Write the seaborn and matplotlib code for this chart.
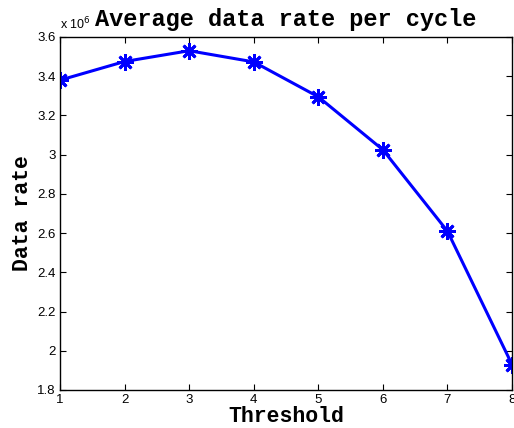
import matplotlib
matplotlib.use("Agg")
import matplotlib.pyplot as plt
import seaborn as sns
import pandas as pd
from matplotlib.ticker import FuncFormatter

threshold = [1, 2, 3, 4, 5, 6, 7, 8]
data_rate = [3380000, 3475000, 3530000, 3473000, 3295000, 3025000, 2610000, 1930000]
y_ticks = [1800000, 2000000, 2200000, 2400000, 2600000, 2800000, 3000000, 3200000, 3400000, 3600000]

sns.set_style("ticks")
plt.rcParams['font.family'] = ['Liberation Sans', 'DejaVu Sans']
plt.rcParams['text.color'] = 'black'
plt.rcParams['axes.labelcolor'] = 'black'

df = pd.DataFrame({"Threshold": threshold, "Data rate": data_rate})

fig = plt.figure(figsize=(5.14, 4.28), dpi=100)
ax = fig.add_axes([60/514, (428-390)/428, (512-60)/514, (390-37)/428])

sns.lineplot(data=df, x="Threshold", y="Data rate", ax=ax, color="#0000ff",
             linewidth=2.2, marker=(8, 2, 0), markersize=12, markeredgewidth=2.0,
             markeredgecolor="#0000ff", markerfacecolor="#0000ff")

ax.set_xlim(1, 8)
ax.set_ylim(1800000, 3600000)
ax.set_xticks(threshold)
ax.set_yticks(y_ticks)
ax.yaxis.set_major_formatter(FuncFormatter(lambda v, p: "%g" % round(v / 1e6, 2)))
ax.tick_params(direction="in", length=4, width=0.8, labelsize=9.5, top=True, right=True,
               colors="black", pad=3)
for s in ax.spines.values():
    s.set_visible(True)
    s.set_linewidth(1.0)
    s.set_color("black")

mono = ['Liberation Mono', 'DejaVu Sans Mono']
ax.set_title("Average data rate per cycle", family=mono, fontweight="bold",
             fontsize=17, pad=8, color="black")
ax.set_xlabel("Threshold", family=mono, fontweight="bold", fontsize=15.5, labelpad=0)
ax.set_ylabel("Data rate", family=mono, fontweight="bold", fontsize=15.5, labelpad=3)
ax.text(0, 1.012, "x 10$^6$", transform=ax.transAxes, fontsize=9, ha="left", va="bottom")

fig.savefig("out.png", dpi=100)
